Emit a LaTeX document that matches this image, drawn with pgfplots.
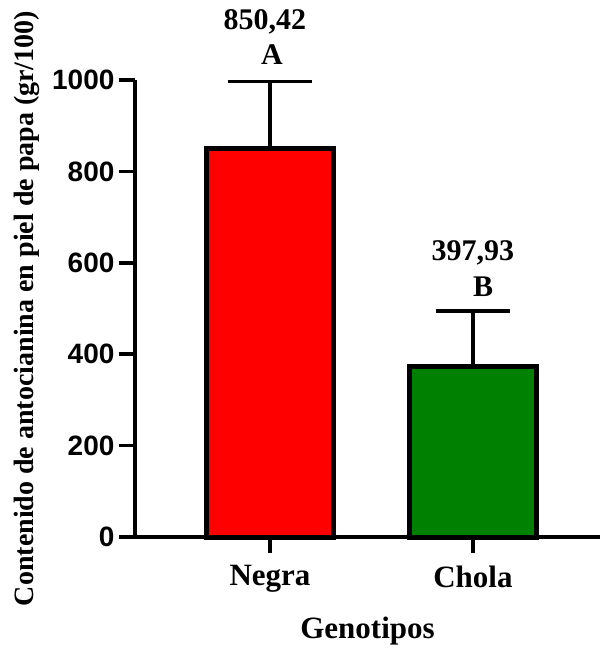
\documentclass[border=0pt]{standalone}
\usepackage{pgfplots}
\pgfplotsset{compat=1.18}
\usepackage{fontspec}
\setmainfont{Liberation Serif}
\setsansfont{Liberation Sans}
\begin{document}
\begin{tikzpicture}
\begin{axis}[
  anchor=south west, at={(0,0)},
  scale only axis, width=465pt, height=457pt,
  xmin=-0.665, xmax=1.626, ymin=0, ymax=1000,
  axis lines*=left,
  axis line style={line width=3.5pt, -},
  clip=false,
  xtick={0,1}, xticklabels={Negra,Chola},
  ytick={0,200,400,600,800,1000},
  tick style={line width=3.5pt, black},
  tick align=outside,
  major tick length=16pt,
  /pgf/number format/assume math mode=true,
  /pgf/number format/1000 sep={},
  yticklabel style={font=\fontsize{28}{28}\selectfont\sffamily\bfseries, xshift=-1pt},
  xticklabel style={font=\fontsize{31}{31}\selectfont\bfseries, yshift=-9pt},
  xlabel={Genotipos},
  ylabel={Contenido de antocianina en piel de papa (gr/100)},
  xlabel style={font=\fontsize{31}{31}\selectfont\bfseries, yshift=-17pt},
  ylabel style={font=\fontsize{28}{28}\selectfont\bfseries, yshift=6pt},
  ybar, bar width=127pt,
]
\addplot[bar shift=0pt, fill=red, draw=black, line width=5pt,
  error bars/.cd, y dir=plus, y explicit,
  error bar style={line width=3.5pt, black},
  error mark options={line width=3.5pt, black, mark size=42pt, rotate=90}]
  coordinates {(0,850) +- (0,147)};
\addplot[bar shift=0pt, fill={rgb,255:red,0;green,128;blue,0}, draw=black, line width=5pt,
  error bars/.cd, y dir=plus, y explicit,
  error bar style={line width=3.5pt, black},
  error mark options={line width=3.5pt, black, mark size=37pt, rotate=90}]
  coordinates {(1,372) +- (0,123)};
\node[font=\fontsize{30}{30}\selectfont\bfseries] at (axis cs:-0.025,1127) {850,42};
\node[font=\fontsize{30}{30}\selectfont\bfseries] at (axis cs:0.01,1055) {A};
\node[font=\fontsize{30}{30}\selectfont\bfseries] at (axis cs:1.0,621) {397,93};
\node[font=\fontsize{30}{30}\selectfont\bfseries] at (axis cs:1.05,547) {B};
\end{axis}
\pgfresetboundingbox
\path[use as bounding box] (-135pt,-115pt) rectangle (465pt,537pt);
\end{tikzpicture}
\end{document}
